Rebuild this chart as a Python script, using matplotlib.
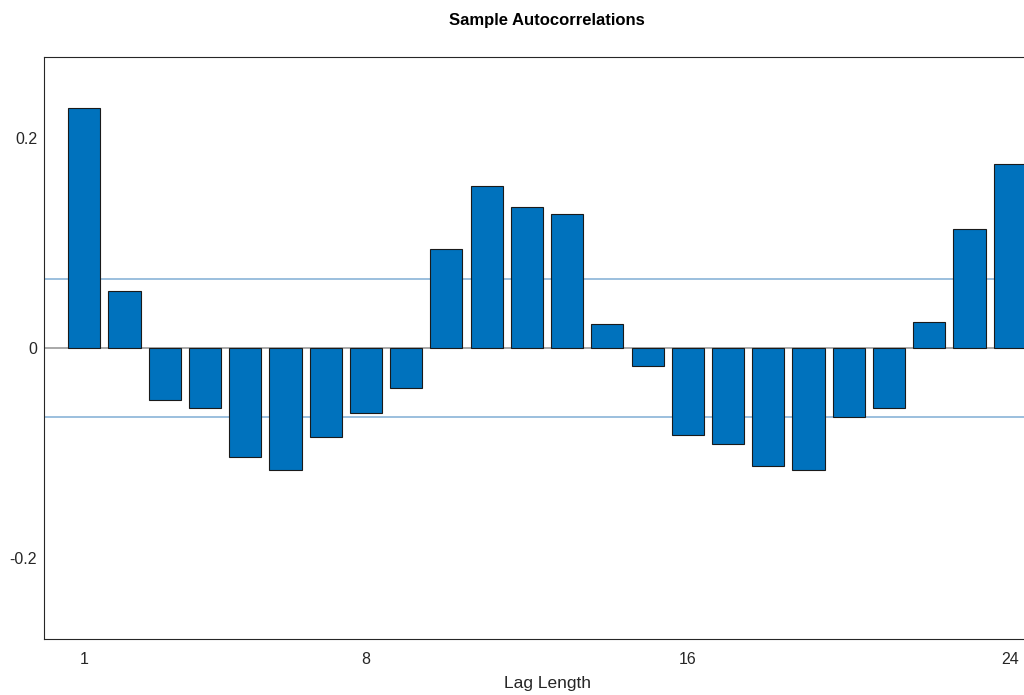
import numpy as np
import matplotlib
matplotlib.use("Agg")
import matplotlib.pyplot as plt

plt.rcParams['font.family'] = ['Liberation Sans', 'DejaVu Sans']

# sample autocorrelations, lags 1..24
lags = np.arange(1, 25)
acf = [0.2287, 0.0545, -0.0495, -0.0571, -0.1040, -0.1165, -0.0850, -0.0620,
       -0.0376, 0.0947, 0.1538, 0.1346, 0.1273, 0.0230, -0.0172, -0.0830,
       -0.0915, -0.1125, -0.1165, -0.0657, -0.0568, 0.0249, 0.1129, 0.1748]
conf_bound = 0.0655
xtick_vals = [1, 8, 16, 24]

fig = plt.figure(figsize=(10.24, 6.95), dpi=100)
# right edge of the axes runs past the figure edge, as in the reference
ax = fig.add_axes([44 / 1024, 1 - 639 / 695, 1006 / 1024, 582 / 695])

ax.bar(lags, acf, width=0.8, color='#0072BD', edgecolor='#1a1a1a', linewidth=0.8, zorder=2)
ax.axhline(0, color='#999999', linewidth=1.2, zorder=1)
ax.axhline(conf_bound, color='#8ab4d8', linewidth=1.2, zorder=1)
ax.axhline(-conf_bound, color='#8ab4d8', linewidth=1.2, zorder=1)

ax.set_xlim(0, 25)
ax.set_ylim(-0.277, 0.277)
ax.set_xticks(xtick_vals)
ax.set_yticks([-0.2, 0, 0.2])
ax.set_yticklabels(['-0.2', '0', '0.2'])
ax.tick_params(length=0, labelsize=11.5, colors='#262626')
ax.tick_params(axis='x', pad=9)
ax.tick_params(axis='y', pad=5)

for s in ax.spines.values():
    s.set_color('#262626')
    s.set_linewidth(0.8)

ax.set_xlabel('Lag Length', fontsize=12.5, color='#262626', labelpad=7)
ax.set_title('Sample Autocorrelations', fontsize=12, fontweight='bold', color='#000000', pad=23)

fig.savefig('out.png', dpi=100)
